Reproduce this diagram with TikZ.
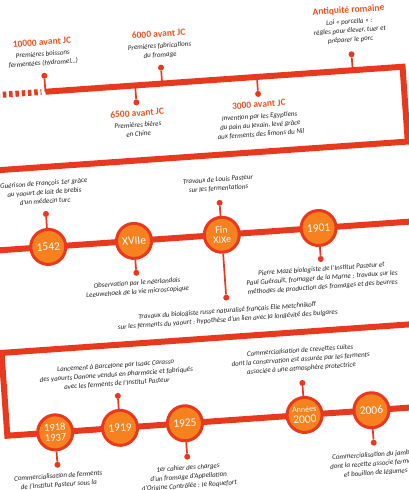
\documentclass[tikz,border=0pt]{standalone}
\usepackage{fontspec}
\setmainfont{Carlito}
\usetikzlibrary{positioning}
\definecolor{linered}{HTML}{E8381E}
\definecolor{datered}{HTML}{E9531F}
\definecolor{discorange}{HTML}{F5821F}
\definecolor{inkgray}{HTML}{1F1F1F}
\newcommand\when[1]{{\color{datered}\upshape\bfseries\fontsize{9.5}{11}\selectfont #1}}

\begin{document}
\begin{tikzpicture}[
    x=1pt, y=1pt,
    node distance=5pt,
    band/.style={draw=linered, line width=6pt},
    stem/.style={draw=linered, line width=1.7pt},
    dot/.style={circle, fill=linered, inner sep=0pt, minimum size=6pt},
    disc/.style={circle, draw=linered, fill=discorange, line width=3pt, minimum size=35pt, inner sep=0pt, text=white, align=center, font=\fontsize{11.5}{11}\selectfont},
    note/.style={align=center, text=inkgray, inner sep=0pt, font=\fontsize{7}{9}\selectfont\itshape}
]
\useasboundingbox (-204.5,-245) rectangle (204.5,245);
\clip (-204.5,-245) rectangle (204.5,245);
\begin{scope}[rotate=4, transform shape]
% first band
\coordinate (west1) at (-260,164);
\coordinate (dashend) at (-152,164);
\coordinate (l10000) at (-148,164);
\coordinate (l6500) at (-58,164);
\coordinate (l6000) at (-31,164);
\coordinate (l3000) at (64,164);
\coordinate (lrome) at (160,164);
\coordinate (ne1) at (210,164);
\coordinate (se1) at (210,89);
\coordinate (sw1) at (-260,89);
\draw[band, dash pattern=on 3.5pt off 2.8pt] (west1) -- (dashend);
\draw[band] (l10000) -- (ne1) -- (se1) -- (sw1);

\node[dot] (d10000) at (-148,180) {};
\node[dot] (d6000) at (-31,180) {};
\node[dot] (drome) at (160,180) {};
\node[dot] (d6500) at (-58,147) {};
\node[dot] (d3000) at (64,147) {};
\draw[stem] (l10000) -- (d10000);
\draw[stem] (l6000) -- (d6000);
\draw[stem] (lrome) -- (drome);
\draw[stem] (l6500) -- (d6500);
\draw[stem] (l3000) -- (d3000);

\node[note, above=6pt of d10000] (t10000) {\when{10000 avant JC}\\[2pt] Premières boissons\\ fermentées (hydromel…)};
\node[note, above=6pt of d6000] (t6000) {\when{6000 avant JC}\\[2pt] Premières fabrications\\ du fromage};
\node[note, above=8pt of drome] (trome) {\when{Antiquité romaine}\\[2pt] Loi « porcella » :\\ règles pour élever, tuer et\\ préparer le porc};
\node[note, below=4pt of d6500] (t6500) {\when{6500 avant JC}\\[2pt] Premières bières\\ en Chine};
\node[note, below=4pt of d3000] (t3000) {\when{3000 avant JC}\\[2pt] Invention par les Egyptiens\\ du pain au levain, levé grâce\\ aux ferments des limons du Nil};

% second band
\coordinate (w2) at (-260,9);
\coordinate (e2) at (260,9);
\draw[band] (w2) -- (e2);
\node[disc] (c1542) at (-156,9) {1542};
\node[disc] (cxvii) at (-70,9) {XVIIe};
\node[disc, font=\fontsize{10}{10}\selectfont] (cxix) at (18,9) {Fin\\XIXe};
\node[disc] (c1901) at (115,9) {1901};

\node[dot] (d1542) at (-156,42) {};
\node[dot] (dxvii) at (-70,-23) {};
\node[dot] (dpasteur) at (18,41) {};
\node[dot] (dmetch) at (18,-54) {};
\node[dot] (d1901) at (115,-22) {};
\draw[stem] (c1542) -- (d1542);
\draw[stem] (cxvii) -- (dxvii);
\draw[stem] (cxix) -- (dpasteur);
\draw[stem] (cxix) -- (dmetch);
\draw[stem] (c1901) -- (d1901);

\node[note, above=7pt of d1542] (t1542) {Guérison de François 1er grâce\\ au yaourt de lait de brebis\\ d'un médecin turc};
\node[note, below=4pt of dxvii] (txvii) {Observation par le néerlandais\\ Leeuwehoek de la vie microscopique};
\node[note, above=8pt of dpasteur] (tpasteur) {Travaux de Louis Pasteur\\ sur les fermentations};
\node[note, below=7pt of dmetch] (tmetch) {Travaux du biologiste russe naturalisé français Elie Metchnikoff\\ sur les ferments du yaourt : hypothèse d'un lien avec la longévité des bulgares};
\node[note, below=4pt of d1901] (t1901) {Pierre Mazé biologiste de l'Institut Pasteur et\\ Paul Guérault, fromager de la Marne : travaux sur les\\ méthodes de production des fromages et des beurres};

% third band
\coordinate (e3) at (260,-93.5);
\coordinate (nw3) at (-210,-93.5);
\coordinate (sw3) at (-210,-176.5);
\coordinate (e3b) at (260,-176.5);
\draw[band] (e3) -- (nw3) -- (sw3) -- (e3b);
\node[disc, font=\fontsize{10.5}{10.5}\selectfont] (c1918) at (-162,-176.5) {1918\\1937};
\node[disc] (c1919) at (-97,-176.5) {1919};
\node[disc] (c1925) at (-32,-176.5) {1925};
\node[disc] (c2000) at (88,-176.5) {{\fontsize{8}{8}\selectfont Années}\\2000};
\node[disc] (c2006) at (155,-176.5) {2006};

\node[dot] (d1918) at (-162,-209) {};
\node[dot] (d1919) at (-97,-144.5) {};
\node[dot] (d1925) at (-32,-210) {};
\node[dot] (d2000) at (88,-144.5) {};
\node[dot] (d2006) at (155,-209) {};
\draw[stem] (c1918) -- (d1918);
\draw[stem] (c1919) -- (d1919);
\draw[stem] (c1925) -- (d1925);
\draw[stem] (c2000) -- (d2000);
\draw[stem] (c2006) -- (d2006);

\node[note, below=5pt of d1918] (t1918) {Commercialisation de ferments\\ de l'Institut Pasteur sous la};
\node[note, above=6pt of d1919] (t1919) {Lancement à Barcelone par Isaac Carasso\\ des yaourts Danone vendus en pharmacie et fabriqués\\ avec les ferments de l'Institut Pasteur};
\node[note, below=5pt of d1925] (t1925) {1er cahier des charges\\ d'un fromage d'Appellation\\ d'Origine Contrôlée : le Roquefort};
\node[note, above=8pt of d2000] (t2000) {Commercialisation de crevettes cuites\\ dont la conservation est assurée par les ferments\\ associée à une atmosphère protectrice};
\node[note, below=6pt of d2006] (t2006) {Commercialisation du jambon\\ dont la recette associe ferments\\ et bouillon de légumes};
\end{scope}
\end{tikzpicture}
\end{document}
